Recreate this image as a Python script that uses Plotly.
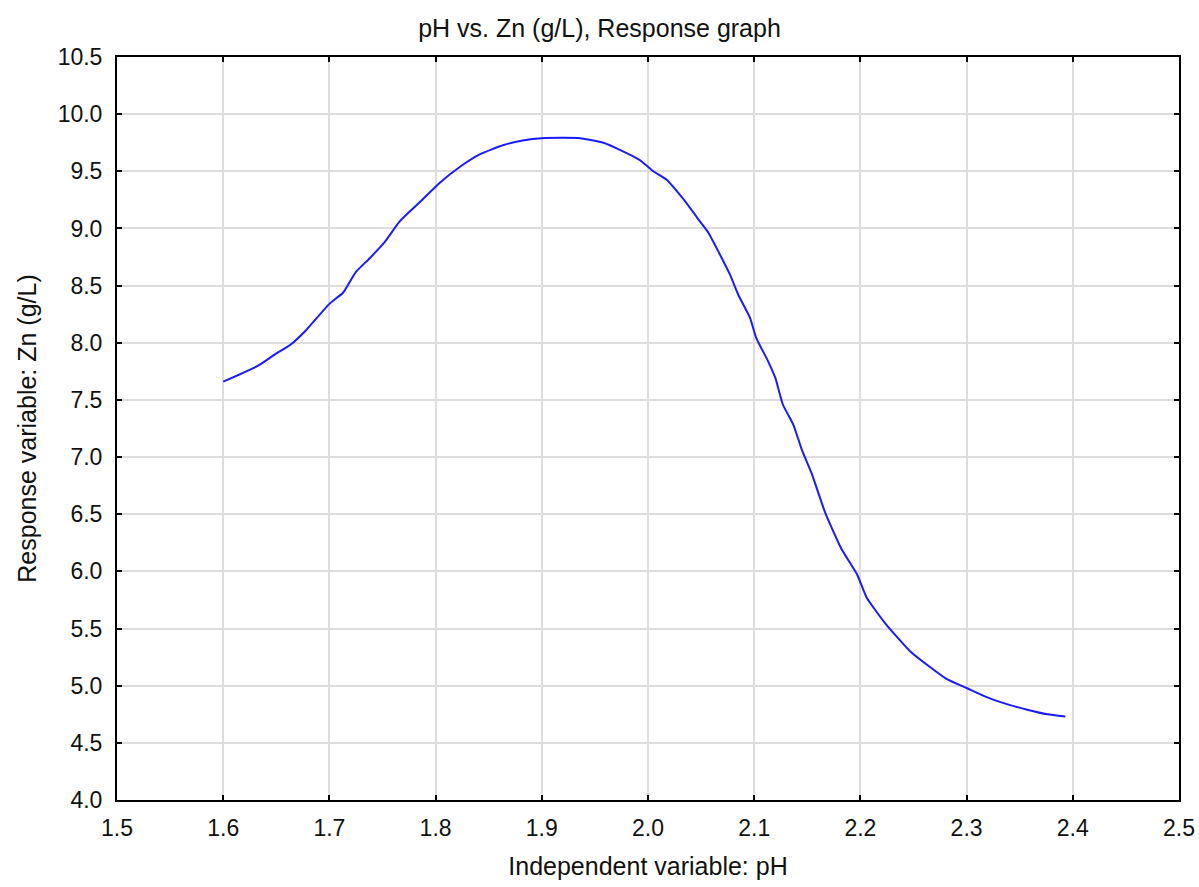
import plotly.graph_objects as go

ph = [1.600, 1.633, 1.649, 1.663, 1.678, 1.700, 1.713, 1.725, 1.738, 1.752, 1.766, 1.784,
      1.804, 1.823, 1.842, 1.864, 1.882, 1.900, 1.936, 1.958, 1.973, 1.992, 2.005, 2.017,
      2.033, 2.049, 2.057, 2.077, 2.085, 2.096, 2.102, 2.113, 2.120, 2.127, 2.137, 2.145,
      2.154, 2.167, 2.182, 2.197, 2.206, 2.223, 2.247, 2.281, 2.300, 2.319, 2.341, 2.357,
      2.376, 2.393]
zn = [7.66, 7.80, 7.90, 7.98, 8.11, 8.34, 8.44, 8.62, 8.74, 8.88, 9.06, 9.22,
      9.40, 9.54, 9.65, 9.73, 9.77, 9.79, 9.79, 9.75, 9.69, 9.60, 9.50, 9.43,
      9.26, 9.06, 8.96, 8.60, 8.42, 8.22, 8.04, 7.84, 7.69, 7.46, 7.28, 7.06,
      6.86, 6.51, 6.20, 5.97, 5.77, 5.55, 5.30, 5.06, 4.98, 4.90, 4.83, 4.79,
      4.75, 4.73]

x_ticks = [1.5, 1.6, 1.7, 1.8, 1.9, 2.0, 2.1, 2.2, 2.3, 2.4, 2.5]
y_ticks = [4.0, 4.5, 5.0, 5.5, 6.0, 6.5, 7.0, 7.5, 8.0, 8.5, 9.0, 9.5, 10.0, 10.5]

font_family = "Liberation Sans, Arial, sans-serif"

W, H = 1199, 887

fig = go.Figure()
fig.add_trace(go.Scatter(x=ph, y=zn, mode="lines",
                         line=dict(color="#1a1aff", width=2, shape="spline", smoothing=0.5),
                         showlegend=False, hoverinfo="skip"))

fig.update_layout(
    width=W, height=H,
    margin=dict(l=117, r=20, t=57, b=87, autoexpand=False),
    paper_bgcolor="white", plot_bgcolor="white",
    font=dict(family=font_family, size=23, color="#111111"),
    title=dict(text="pH vs. Zn (g/L), Response graph", x=0.5, xanchor="center",
               y=1 - 28 / H, yanchor="middle", font=dict(size=25)),
)
fig.update_xaxes(
    range=[1.5, 2.5], tickvals=x_ticks, ticktext=[f"{v:.1f}" for v in x_ticks],
    showgrid=True, gridcolor="#dddddd", gridwidth=1.5,
    showline=True, linecolor="black", linewidth=2, mirror="ticks",
    ticks="inside", ticklen=5, tickcolor="black", tickwidth=1.5,
    zeroline=False, ticklabelstandoff=6, automargin=False,
    title=dict(text="Independent variable: pH", font=dict(size=25), standoff=18),
)
fig.update_yaxes(
    range=[4.0, 10.5], tickvals=y_ticks, ticktext=[f"{v:.1f}" for v in y_ticks],
    showgrid=True, gridcolor="#dddddd", gridwidth=1.5,
    showline=True, linecolor="black", linewidth=2, mirror="ticks",
    ticks="inside", ticklen=5, tickcolor="black", tickwidth=1.5,
    zeroline=False, ticklabelstandoff=8, automargin=False,
    title=dict(text="Response variable: Zn (g/L)", font=dict(size=25), standoff=14),
)

fig.write_html("out.html", config={"displayModeBar": False},
               post_script="document.body.style.margin='0';document.body.style.overflow='hidden';")
